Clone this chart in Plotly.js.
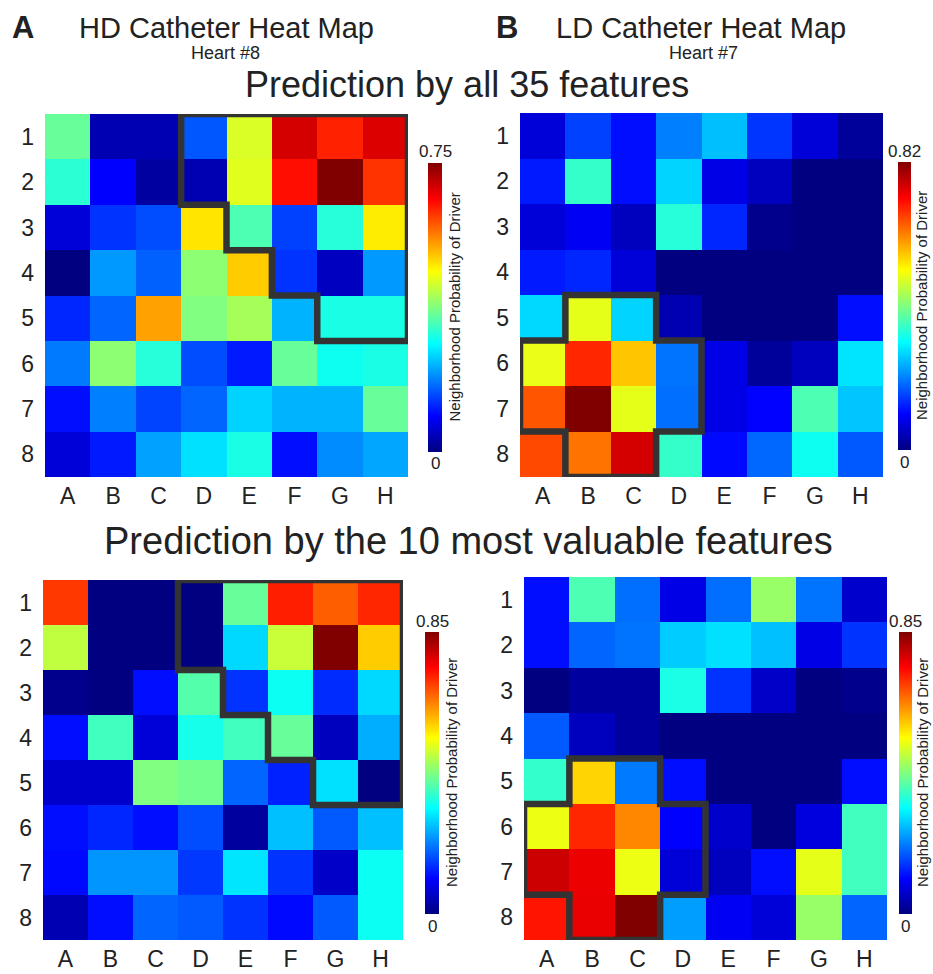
<!DOCTYPE html>
<html>
<head>
<meta charset="utf-8">
<script src="https://cdn.plot.ly/plotly-3.0.1.min.js"></script>
<style>html,body{margin:0;padding:0;background:#fff;}#chart{width:933px;height:974px;}</style>
</head>
<body>
<div id="chart"></div>
<script>
// ---------------- DATA ----------------
const colLabels = ['A','B','C','D','E','F','G','H'];
const rowLabels = ['1','2','3','4','5','6','7','8'];

// HD catheter, heart #8, all 35 features (max 0.75)
const hdAll = [
  [0.356,0.038,0.038,0.158,0.441,0.688,0.632,0.681],
  [0.313,0.094,0.024,0.038,0.446,0.647,0.750,0.619],
  [0.066,0.131,0.150,0.488,0.338,0.141,0.309,0.482],
  [0.000,0.206,0.165,0.384,0.506,0.131,0.047,0.206],
  [0.122,0.169,0.538,0.375,0.403,0.225,0.300,0.300],
  [0.184,0.384,0.309,0.150,0.113,0.356,0.291,0.300],
  [0.103,0.188,0.144,0.169,0.249,0.225,0.225,0.356],
  [0.066,0.113,0.212,0.259,0.300,0.103,0.197,0.216]
];
// LD catheter, heart #7, all 35 features (max 0.82)
const ldAll = [
  [0.072,0.154,0.113,0.205,0.256,0.144,0.072,0.021],
  [0.123,0.349,0.113,0.273,0.082,0.051,0.000,0.000],
  [0.072,0.092,0.051,0.338,0.133,0.010,0.000,0.000],
  [0.123,0.133,0.072,0.000,0.000,0.000,0.000,0.000],
  [0.277,0.492,0.273,0.041,0.000,0.000,0.000,0.113],
  [0.496,0.687,0.558,0.195,0.082,0.021,0.051,0.287],
  [0.650,0.820,0.492,0.191,0.082,0.103,0.369,0.262],
  [0.660,0.625,0.752,0.349,0.109,0.185,0.318,0.174]
];
// HD catheter, 10 most valuable features (max 0.85)
const hdTop10 = [
  [0.697,0.000,0.000,0.000,0.404,0.718,0.665,0.712],
  [0.478,0.000,0.000,0.000,0.287,0.485,0.850,0.574],
  [0.011,0.000,0.117,0.389,0.149,0.329,0.142,0.287],
  [0.117,0.372,0.074,0.336,0.372,0.404,0.053,0.251],
  [0.064,0.064,0.425,0.414,0.191,0.134,0.293,0.000],
  [0.117,0.138,0.117,0.170,0.026,0.266,0.181,0.266],
  [0.113,0.230,0.230,0.153,0.298,0.149,0.060,0.329],
  [0.043,0.117,0.191,0.181,0.149,0.113,0.181,0.329]
];
// LD catheter, 10 most valuable features (max 0.85)
const ldTop10 = [
  [0.117,0.383,0.198,0.085,0.198,0.446,0.202,0.064],
  [0.117,0.191,0.202,0.276,0.293,0.266,0.085,0.149],
  [0.000,0.026,0.026,0.340,0.149,0.060,0.000,0.011],
  [0.181,0.053,0.026,0.000,0.000,0.000,0.000,0.000],
  [0.361,0.567,0.208,0.117,0.000,0.000,0.000,0.117],
  [0.516,0.712,0.631,0.106,0.064,0.000,0.079,0.372],
  [0.786,0.759,0.516,0.074,0.053,0.117,0.510,0.372],
  [0.727,0.761,0.850,0.238,0.096,0.074,0.446,0.191]
];
const zMax = [0.75, 0.82, 0.85, 0.85];
const zMaxLabels = ['0.75','0.82','0.85','0.85'];

// driver-region outlines, in cell-edge grid units (column, row)
const hdRegionX = [2.5,7.5,7.5,5.5,5.5,4.5,4.5,3.5,3.5,2.5];
const hdRegionY = [-0.5,-0.5,4.5,4.5,3.5,3.5,2.5,2.5,1.5,1.5];
const ldRegionX = [0.5,2.5,2.5,3.5,3.5,2.5,2.5,0.5,0.5,-0.5,-0.5,0.5];
const ldRegionY = [3.5,3.5,4.5,4.5,6.5,6.5,7.5,7.5,6.5,6.5,4.5,4.5];

// ---------------- STYLE / LAYOUT ----------------
const W = 933, H = 974;
const fx = v => v / W;
const fy = v => 1 - v / H;
const FONT = 'Liberation Sans, Arial, Helvetica, sans-serif';
const TXT = '#222222';

const jet = [
  [0, '#000080'], [0.125, '#0000ff'], [0.375, '#00ffff'],
  [0.625, '#ffff00'], [0.875, '#ff0000'], [1, '#800000']
];

// pixel boxes: [left, right, top, bottom]
const boxes = [
  [45, 408, 114, 477],
  [520, 883, 113, 477],
  [43, 403, 580, 940],
  [524, 887, 577, 940]
];
// colorbar: [left, top, len, thickness, title offset]
const cbars = [
  [428, 163, 289, 14, 12],
  [898, 162, 288, 13, 11],
  [425, 632, 282, 14, 12],
  [899, 632, 282, 13, 10]
];
const zs = [hdAll, ldAll, hdTop10, ldTop10];
const regions = [[hdRegionX, hdRegionY],[ldRegionX, ldRegionY],[hdRegionX, hdRegionY],[ldRegionX, ldRegionY]];

const idx = [0,1,2,3,4,5,6,7];
const traces = [];
const layout = {
  width: W, height: H,
  margin: {l:0, r:0, t:0, b:0},
  paper_bgcolor: '#fff', plot_bgcolor: '#fff',
  font: {family: FONT, color: TXT},
  showlegend: false,
  shapes: [], annotations: []
};

zs.forEach((z, i) => {
  const n = i === 0 ? '' : String(i + 1);
  const b = boxes[i], c = cbars[i];
  traces.push({
    type: 'heatmap', z: z, x: idx, y: idx,
    xaxis: 'x' + n, yaxis: 'y' + n,
    zmin: 0, zmax: zMax[i], colorscale: jet,
    hoverinfo: 'skip',
    colorbar: {
      x: fx(c[0]), xanchor: 'left', xpad: 0,
      y: fy(c[1]), yanchor: 'top', ypad: 0,
      len: c[2], lenmode: 'pixels', thickness: c[3], thicknessmode: 'pixels',
      outlinewidth: 0, showticklabels: false, ticks: ''
    }
  });
  layout['xaxis' + n] = {
    domain: [fx(b[0]), fx(b[1])], anchor: 'y' + n,
    range: [-0.5, 7.5], tickvals: idx, ticktext: colLabels,
    showgrid: false, zeroline: false, showline: false, ticks: '',
    ticklabelstandoff: 3,
    tickfont: {size: 23, family: FONT, color: TXT}, fixedrange: true
  };
  layout['yaxis' + n] = {
    domain: [fy(b[3]), fy(b[2])], anchor: 'x' + n,
    range: [7.5, -0.5], tickvals: idx, ticktext: rowLabels,
    showgrid: false, zeroline: false, showline: false, ticks: '',
    ticklabelstandoff: 10,
    tickfont: {size: 23, family: FONT, color: TXT}, fixedrange: true
  };
  const rx = regions[i][0], ry = regions[i][1];
  let p = 'M ' + rx[0] + ' ' + ry[0];
  for (let k = 1; k < rx.length; k++) p += ' L ' + rx[k] + ' ' + ry[k];
  p += ' Z';
  layout.shapes.push({
    type: 'path', path: p, xref: 'x' + n, yref: 'y' + n,
    line: {color: '#333333', width: 6.5}, fillcolor: 'rgba(0,0,0,0)', layer: 'above'
  });
  const cx = c[0] + c[3] / 2;
  layout.annotations.push(
    {text: zMaxLabels[i], x: fx(cx), y: fy(c[1] - 11), xref: 'paper', yref: 'paper',
     xanchor: 'center', yanchor: 'middle', showarrow: false, font: {size: 17, family: FONT, color: TXT}},
    {text: '0', x: fx(cx), y: fy(c[1] + c[2] + 12), xref: 'paper', yref: 'paper',
     xanchor: 'center', yanchor: 'middle', showarrow: false, font: {size: 17, family: FONT, color: TXT}},
    {text: 'Neighborhood Probability of Driver', x: fx(c[0] + c[3] + c[4]), y: fy(c[1] + c[2] / 2),
     xref: 'paper', yref: 'paper', xanchor: 'center', yanchor: 'middle', textangle: -90,
     borderpad: 0, showarrow: false, font: {size: 15, family: FONT, color: TXT}}
  );
});

const ann = (text, x, y, size, extra) => Object.assign({
  text: text, x: fx(x), y: fy(y), xref: 'paper', yref: 'paper',
  xanchor: 'center', yanchor: 'middle', showarrow: false,
  font: {size: size, family: FONT, color: TXT}
}, extra || {});

layout.annotations.push(
  ann('<b>A</b>', 23, 28, 31),
  ann('<b>B</b>', 507, 28, 31),
  ann('HD Catheter Heat Map', 226, 28, 29),
  ann('Heart #8', 225, 53, 18),
  ann('LD Catheter Heat Map', 701, 28, 29),
  ann('Heart #7', 703, 53, 18),
  ann('Prediction by all 35 features', 467, 84, 36),
  ann('Prediction by the 10 most valuable features', 468, 541, 38)
);

Plotly.newPlot('chart', traces, layout, {displayModeBar: false, staticPlot: true});
</script>
</body>
</html>
